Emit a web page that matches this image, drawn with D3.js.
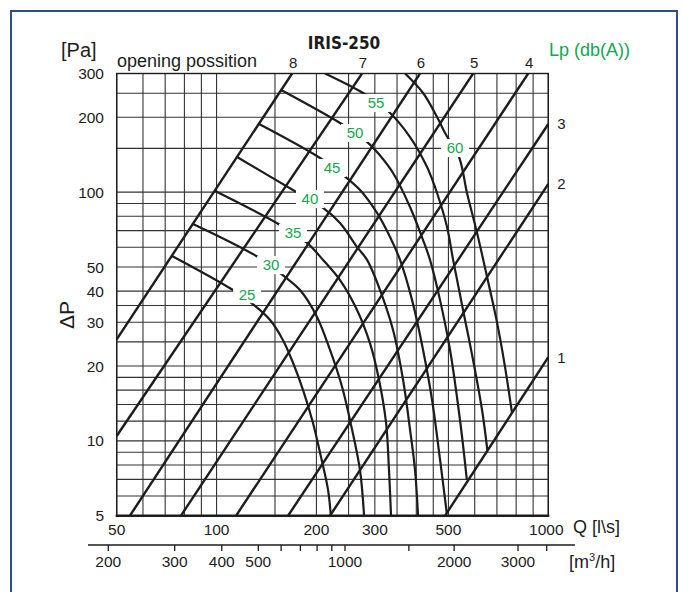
<!DOCTYPE html>
<html><head><meta charset="utf-8">
<script src="https://cdn.jsdelivr.net/npm/d3@7"></script>
<style>
body{margin:0;background:#fff;}
svg{display:block;font-family:"Liberation Sans",Arial,sans-serif;}
</style>
</head><body>
<svg id="c" width="683" height="592"></svg>
<script>
// ---------- data ----------
const qGrid = [50,60,70,80,90,100,150,200,250,300,350,400,450,500,600,700,800,900,1000];
const pGrid = [5,6,7,8,9,10,12,14,16,18,20,25,30,35,40,50,60,70,80,90,100,150,200,250,300];
const qLabels = [50,100,200,300,500,1000];
const pLabels = [5,10,20,30,40,50,100,200,300];
const m3hTicks = [200,300,400,500,600,700,800,900,1000,1500,2000,3000,3600];
const m3hLabels = [200,300,400,500,1000,2000,3000];

// opening positions: ΔP = k·Q² lines, two read points each [Q l/s, ΔP Pa]
const openingNames = ["8","7","6","5","4","3","2","1"];
const open8 = [[50,25.6],[168.9,300]];
const open7 = [[50,10.46],[274.5,300]];
const open6 = [[54.8,5],[410.5,300]];
const open5 = [[78.1,5],[593.4,300]];
const open4 = [[114.5,5],[869.6,300]];
const open3 = [[164.3,5],[1000,187.9]];
const open2 = [[219.8,5],[1000,107.9]];
const open1 = [[488.4,5],[1000,21.7]];
const openingLines = [open8,open7,open6,open5,open4,open3,open2,open1];

// sound level curves Lp dB(A)
const lpNames = ["25","30","35","40","45","50","55","60"];
const lp25 = [[73.4,55.4],[112.1,40.4],[130.6,34.9],[145,30.6],[158.6,25.4],[170,20.6],[182.3,16.0],[195.3,11.8],[206.5,8.6],[216.8,6.35],[221,5]];
const lp30 = [[84.9,74.5],[133.4,54.8],[160.8,45.6],[178.5,40.4],[200.8,31.5],[219.8,23.2],[238.9,16.5],[256.1,11.1],[270.7,7.6],[278.4,5]];
const lp35 = [[99,101],[155.4,73.8],[187.4,62.5],[209.4,53.4],[235.6,44.3],[265.1,33.6],[290,24.7],[308.8,17.6],[324.3,11.8],[331,7.6],[335.7,5]];
const lp40 = [[115.3,138.5],[176,99.2],[209.4,86.4],[235.6,75.2],[265.1,60.2],[284.2,53.4],[311,40.4],[340.4,27.9],[364.9,17.6],[383,11.1],[396.6,7.6],[404.9,5]];
const lp45 = [[134.3,187.9],[205.1,137.2],[240.6,117.2],[270.7,102],[304.6,82.5],[333.4,66],[357.4,53.4],[388.5,36.8],[419.3,23.2],[446.3,14.6],[471.7,8.4],[494,5.15]];
const lp50 = [[156.5,257.4],[235.6,189.7],[280.3,162],[304.6,145],[340.4,119.4],[383,87.2],[419.3,64.2],[440,53.4],[471.7,36.8],[505.6,23.2],[541.9,12.1],[568,7.0]];
const lp55 = [[212.3,300],[276.4,250.4],[326.5,213.9],[383,166.6],[431,126.2],[462,99.2],[495.2,72.4],[516.5,53.4],[553.4,33.6],[593.4,21.1],[631.4,13.3],[655,9.2]];
const lp60 = [[370,300],[419.3,250.4],[462,200.5],[488.4,172.9],[538.1,138.5],[568.8,99.2],[610,68.5],[653.8,45.6],[701,29.8],[740.6,19.8],[777,13.0]];
const lpCurves = [lp25,lp30,lp35,lp40,lp45,lp50,lp55,lp60];
const lpLabelQ = [123.6,146,170,191.2,222.9,261.5,302.4,523.5];
const lpLabelP = [38.9,50.9,68.5,93.8,125,172.9,228.2,150.5];

// ---------- drawing ----------
const svg = d3.select("#c");
const GREEN = "#12a650";
const INK = "#1c1c1c";

const x = d3.scaleLog().domain([50,1000]).range([116.7,548.3]);
const y = d3.scaleLog().domain([5,300]).range([515.7,73.5]);
// the printed m3/h scale is not evenly spaced; piecewise log scale follows it
const x2 = d3.scaleLog().domain([200,500,1000,3600]).range([108.3,258.3,345,546.7]);

// outer frame
svg.append("rect").attr("x",11).attr("y",11).attr("width",666).attr("height",620)
  .attr("fill","none").attr("stroke","#2c4f86").attr("stroke-width",2);

svg.append("clipPath").attr("id","plotclip").append("rect")
  .attr("x",x(50)).attr("y",y(300)).attr("width",x(1000)-x(50)).attr("height",y(5)-y(300));

// grid
const grid = svg.append("g");
grid.selectAll("line.v").data(qGrid).join("line").attr("class","v")
  .attr("x1",d=>x(d)).attr("x2",d=>x(d)).attr("y1",y(300)).attr("y2",y(5))
  .attr("stroke","#333").attr("stroke-width",1.1);
grid.selectAll("line.h").data(pGrid).join("line").attr("class","h")
  .attr("y1",d=>y(d)).attr("y2",d=>y(d)).attr("x1",x(50)).attr("x2",x(1000))
  .attr("stroke","#333").attr("stroke-width",1.1);

// frame of plot
svg.append("rect").attr("x",x(50)).attr("y",y(300)).attr("width",x(1000)-x(50)).attr("height",y(5)-y(300))
  .attr("fill","none").attr("stroke",INK).attr("stroke-width",1.4);
svg.append("line").attr("x1",x(50)-1).attr("x2",x(1000)+1).attr("y1",y(5)).attr("y2",y(5))
  .attr("stroke",INK).attr("stroke-width",2.6);

const plot = svg.append("g").attr("clip-path","url(#plotclip)");
const straight = d3.line().x(d=>x(d[0])).y(d=>y(d[1]));
plot.selectAll("path.open").data(openingLines).join("path").attr("class","open")
  .attr("d",straight).attr("fill","none").attr("stroke",INK).attr("stroke-width",2.4);

const smooth = d3.line().x(d=>x(d[0])).y(d=>y(d[1])).curve(d3.curveCatmullRom.alpha(0.5));
plot.selectAll("path.lp").data(lpCurves).join("path").attr("class","lp")
  .attr("d",smooth).attr("fill","none").attr("stroke",INK).attr("stroke-width",2.2);

// Lp labels
const lab = svg.append("g");
lpNames.forEach((n,i)=>{
  const cx = x(lpLabelQ[i]), cy = y(lpLabelP[i]);
  lab.append("rect").attr("x",cx-14).attr("y",cy-9).attr("width",28).attr("height",18).attr("fill","#fff");
  lab.append("text").attr("x",cx).attr("y",cy).attr("dy","0.36em").attr("text-anchor","middle")
    .attr("font-size",15).attr("fill",GREEN).text(n);
});

// opening labels
openingLines.forEach((ln,i)=>{
  const end = ln[1];
  if (end[1] >= 300) {
    svg.append("text").attr("x",x(end[0])+1).attr("y",67.5).attr("text-anchor","middle")
      .attr("font-size",15).attr("fill",INK).text(openingNames[i]);
  } else {
    svg.append("text").attr("x",x(1000)+9).attr("y",y(end[1])).attr("dy","0.36em")
      .attr("font-size",15).attr("fill",INK).text(openingNames[i]);
  }
});

// y labels
svg.selectAll("text.yl").data(pLabels).join("text").attr("class","yl")
  .attr("x",104).attr("y",d=>y(d)).attr("dy","0.36em").attr("text-anchor","end")
  .attr("font-size",15.5).attr("fill",INK).text(d=>d);
// x labels
svg.selectAll("text.xl").data(qLabels).join("text").attr("class","xl")
  .attr("x",d=>x(d)+(d===1000?-2:0)).attr("y",535).attr("text-anchor","middle")
  .attr("font-size",15.5).attr("fill",INK).text(d=>d);

// second axis m3/h
const ax2 = svg.append("g");
ax2.append("line").attr("x1",88).attr("x2",575).attr("y1",545).attr("y2",545)
  .attr("stroke",INK).attr("stroke-width",1.3);
ax2.selectAll("line.t").data(m3hTicks).join("line").attr("class","t")
  .attr("x1",d=>x2(d)).attr("x2",d=>x2(d)).attr("y1",545).attr("y2",551)
  .attr("stroke",INK).attr("stroke-width",1.3);
ax2.selectAll("text").data(m3hLabels).join("text")
  .attr("x",d=>x2(d)).attr("y",567).attr("text-anchor","middle")
  .attr("font-size",15.5).attr("fill",INK).text(d=>d);

// titles
svg.append("text").attr("x",344).attr("y",48.5).attr("text-anchor","middle")
  .attr("font-family","'DejaVu Sans Condensed','DejaVu Sans',sans-serif")
  .attr("font-weight","bold").attr("font-size",17).attr("fill",INK).text("IRIS-250");
svg.append("text").attr("x",61).attr("y",57).attr("font-size",20).attr("fill",INK).text("[Pa]");
svg.append("text").attr("x",117).attr("y",67).attr("font-size",18).attr("fill",INK).text("opening possition");
svg.append("text").attr("x",549).attr("y",56).attr("font-size",18).attr("fill",GREEN).text("Lp (db(A))");
svg.append("text").attr("transform","translate(74,315) rotate(-90)").attr("text-anchor","middle")
  .attr("font-size",21).attr("fill",INK).text("ΔP");
svg.append("text").attr("x",573).attr("y",533).attr("font-size",18).attr("fill",INK).text("Q [l\\s]");
const m3 = svg.append("text").attr("x",569).attr("y",568).attr("font-size",18).attr("fill",INK);
m3.append("tspan").text("[m");
m3.append("tspan").attr("dy",-7).attr("font-size",11).text("3");
m3.append("tspan").attr("dy",7).text("/h]");
</script>
</body></html>
